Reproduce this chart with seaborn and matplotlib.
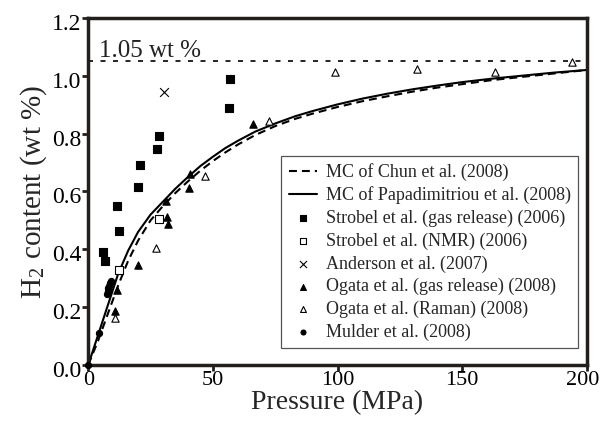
import matplotlib
matplotlib.use('Agg')
import matplotlib.pyplot as plt
import matplotlib.transforms as mtransforms
import seaborn as sns

# model curves
curve_p = [0, 4, 8, 12, 16, 20, 25, 30, 35, 40, 45, 50, 55, 60, 67, 75, 83, 90,
           100, 110, 120, 130, 140, 150, 162, 175, 187, 200]
chun_h2 = [0, 0.085, 0.18, 0.275, 0.36, 0.43, 0.50, 0.55, 0.595, 0.635, 0.672, 0.705,
           0.735, 0.762, 0.795, 0.826, 0.851, 0.869, 0.892, 0.912, 0.929, 0.945, 0.959,
           0.971, 0.985, 0.997, 1.008, 1.02]
papa_h2 = [0, 0.105, 0.21, 0.315, 0.395, 0.46, 0.52, 0.565, 0.61, 0.65, 0.688, 0.72,
           0.75, 0.775, 0.807, 0.835, 0.86, 0.878, 0.901, 0.921, 0.938, 0.953, 0.966,
           0.978, 0.99, 1.001, 1.011, 1.02]

# experimental points
strobel_gas_p = [6.0, 6.7, 11.7, 12.3, 20.0, 20.7, 27.6, 28.3, 56.3, 56.7]
strobel_gas_h2 = [0.39, 0.36, 0.55, 0.465, 0.615, 0.69, 0.746, 0.792, 0.888, 0.988]
strobel_nmr_p = [12.3, 28.2]
strobel_nmr_h2 = [0.329, 0.504]
anderson_p = [30.4]
anderson_h2 = [0.945]
ogata_gas_p = [10.8, 11.5, 20.1, 31.7, 32.1, 31.3, 40.5, 40.8, 66.1]
ogata_gas_h2 = [0.188, 0.26, 0.346, 0.511, 0.489, 0.567, 0.611, 0.661, 0.834]
ogata_raman_p = [10.8, 27.0, 46.7, 72.5, 99.1, 131.7, 163.2, 194.1]
ogata_raman_h2 = [0.162, 0.404, 0.652, 0.845, 1.012, 1.025, 1.014, 1.046]
mulder_p = [0, 4.4, 7.5, 7.8, 8.1, 8.4, 8.7, 9.0]
mulder_h2 = [0, 0.112, 0.245, 0.255, 0.265, 0.275, 0.285, 0.29]

limit_h2 = 1.05

sns.set_style('ticks')
plt.rcParams['font.family'] = ['Liberation Serif', 'DejaVu Serif']
plt.rcParams['mathtext.fontset'] = 'stix'

ink = '#231f1c'

fig, ax = plt.subplots(figsize=(6, 4.26), dpi=100)
fig.subplots_adjust(left=0.147, right=0.978, bottom=0.143, top=0.958)

sns.lineplot(x=curve_p, y=chun_h2, ax=ax, color='black', lw=1.5,
             linestyle=(0, (3.8, 2.4)), label='MC of Chun et al. (2008)')
sns.lineplot(x=curve_p, y=papa_h2, ax=ax, color='black', lw=1.5,
             label='MC of Papadimitriou et al. (2008)')

pts = dict(ax=ax, linewidth=0.8, zorder=5)
sns.scatterplot(x=strobel_gas_p, y=strobel_gas_h2, marker='s', s=26, color='black',
                edgecolor='black', label='Strobel et al. (gas release) (2006)', **pts)
sns.scatterplot(x=strobel_nmr_p, y=strobel_nmr_h2, marker='s', s=26, facecolor='white',
                edgecolor='black', label='Strobel et al. (NMR) (2006)', **pts)
sns.scatterplot(x=anderson_p, y=anderson_h2, marker='x', s=40, color='black',
                label='Anderson et al. (2007)', **pts)
sns.scatterplot(x=ogata_gas_p, y=ogata_gas_h2, marker='^', s=28, color='black',
                edgecolor='black', label='Ogata et al. (gas release) (2008)', **pts)
sns.scatterplot(x=ogata_raman_p, y=ogata_raman_h2, marker='^', s=28, facecolor='white',
                edgecolor='black', label='Ogata et al. (Raman) (2008)', **pts)
sns.scatterplot(x=mulder_p, y=mulder_h2, marker='o', s=20, color='black',
                edgecolor='black', label='Mulder et al. (2008)', **pts)
for c in ax.collections:
    c.set_clip_on(False)

ax.axhline(limit_h2, color='black', lw=1.2, linestyle=(0, (3, 4.5)))
ax.text(4.5, 1.066, '1.05 wt %', fontsize=18, color='#222222')

ax.set_xlim(0, 200)
ax.set_ylim(0, 1.2)
ax.set_xticks([0, 50, 100, 150, 200])
ax.set_yticks([0.0, 0.2, 0.4, 0.6, 0.8, 1.0, 1.2])
ax.set_yticklabels(['0.0', '0.2', '0.4', '0.6', '0.8', '1.0', '1.2'])
ax.tick_params(direction='out', length=4, width=2, colors=ink,
               labelcolor='black', pad=1)
ax.tick_params(axis='y', labelsize=17)
ax.tick_params(axis='x', labelsize=16, pad=0)
# y tick labels in the original sit slightly below their ticks
shift = mtransforms.ScaledTranslation(0, -4 / 100, fig.dpi_scale_trans)
for lab in ax.get_yticklabels():
    lab.set_transform(lab.get_transform() + shift)
# keep the last x label inside the canvas
last = ax.get_xticklabels()[-1]
last.set_transform(last.get_transform() +
                   mtransforms.ScaledTranslation(-4 / 100, 0, fig.dpi_scale_trans))
for sp in ax.spines.values():
    sp.set_visible(True)
    sp.set_linewidth(2.5)
    sp.set_color(ink)

ax.set_xlabel('Pressure (MPa)', fontsize=20, labelpad=0)
ax.set_ylabel('H$_\\mathregular{2}$ content (wt %)', fontsize=21, labelpad=2)

leg = ax.legend(loc='lower right', bbox_to_anchor=(0.982, 0.049), borderaxespad=0,
                fontsize=13, frameon=True, fancybox=False, framealpha=1,
                edgecolor='#555555', handlelength=1.55, handletextpad=0.5,
                labelspacing=0.3, borderpad=0.4, markerscale=0.8)
leg.get_frame().set_linewidth(0.9)

plt.savefig('out.png', dpi=100)
